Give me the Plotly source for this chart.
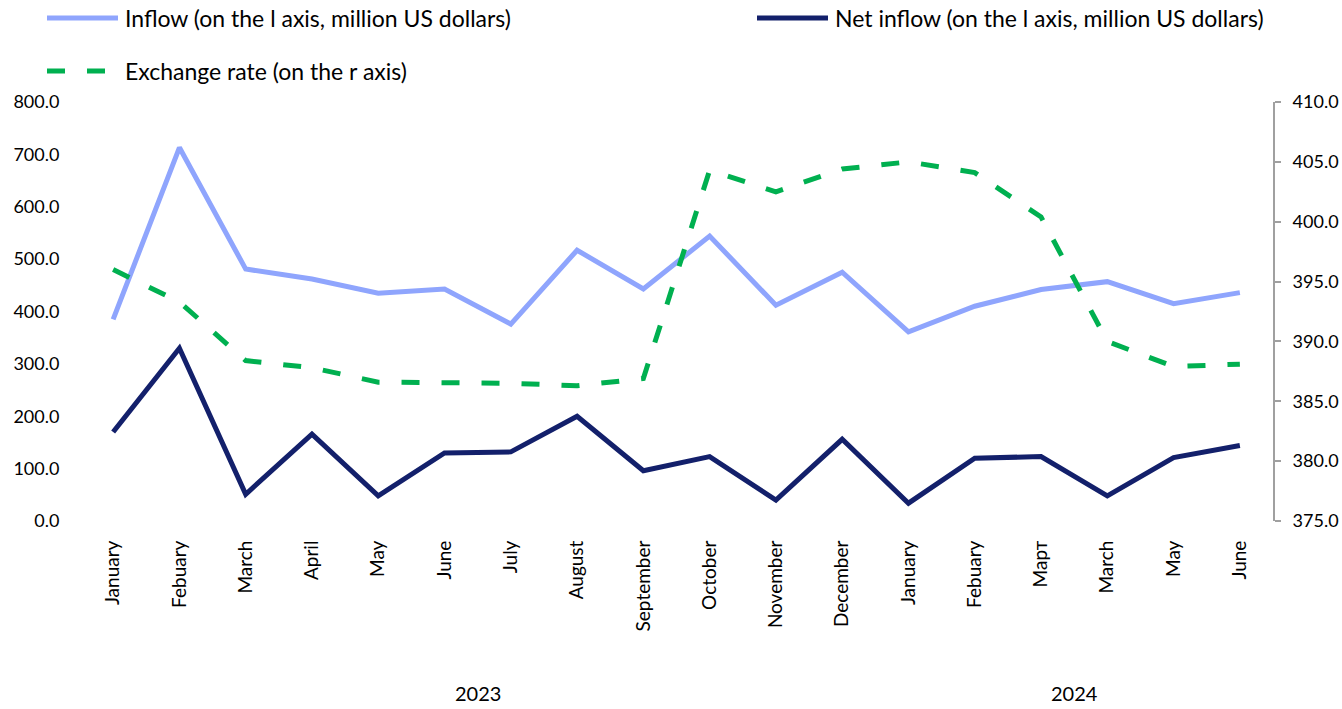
import plotly.graph_objects as go

# Monthly categories (Jan 2023 – Jun 2024)
months = ["January", "Febuary", "March", "April", "May", "June", "July", "August",
          "September", "October", "November", "December",
          "January", "Febuary", "Март", "March", "May", "June"]
years = ["2023", "2024"]
year_centers = [5.5, 14.5]

inflow = [385, 713, 481, 462, 435, 443, 376, 517, 443, 544, 412, 475,
          361, 410, 442, 457, 415, 436]
net_inflow = [170, 330, 51, 166, 48, 130, 132, 200, 96, 123, 40, 156,
              34, 120, 123, 48, 121, 144]
exchange_rate = [396.0, 393.3, 388.4, 387.8, 386.6, 386.6, 386.5, 386.3, 386.9,
                 404.3, 402.5, 404.4, 405.0, 404.1, 400.4, 390.0, 387.9, 388.1]

x = list(range(len(months)))

C_INFLOW = "#8FA5FD"
C_NET = "#13206B"
C_RATE = "#00B050"
FONT = "Lato"

W, H = 1342, 709
M = dict(l=80, r=69, t=102, b=188)


def px_to_paper(px, py):
    pw = W - M["l"] - M["r"]
    ph = H - M["t"] - M["b"]
    return (px - M["l"]) / pw, (H - M["b"] - py) / ph


fig = go.Figure()
fig.add_trace(go.Scatter(x=x, y=inflow, mode="lines", name="Inflow (on the l axis, million US dollars)",
                         line=dict(color=C_INFLOW, width=5), showlegend=False))
fig.add_trace(go.Scatter(x=x, y=net_inflow, mode="lines", name="Net inflow (on the l axis, million US dollars)",
                         line=dict(color=C_NET, width=5), showlegend=False))
fig.add_trace(go.Scatter(x=x, y=exchange_rate, mode="lines", name="Exchange rate (on the r axis)",
                         yaxis="y2", line=dict(color=C_RATE, width=5, dash="18px,22px"),
                         showlegend=False))

# Legend drawn as sample lines plus labels
legend_items = [
    (47, 18, C_INFLOW, "solid", "Inflow (on the l axis, million US dollars)"),
    (757, 18, C_NET, "solid", "Net inflow (on the l axis, million US dollars)"),
    (47, 71, C_RATE, "18px,22px", "Exchange rate (on the r axis)"),
]
shapes = []
annotations = []
for lx, ly, col, dash, label in legend_items:
    x0, y0 = px_to_paper(lx, ly)
    x1, _ = px_to_paper(lx + 71, ly)
    xt, _ = px_to_paper(lx + 76, ly)
    shapes.append(dict(type="line", xref="paper", yref="paper", x0=x0, x1=x1, y0=y0, y1=y0,
                       line=dict(color=col, width=5, dash=dash)))
    annotations.append(dict(xref="paper", yref="paper", x=xt, y=y0, text=label,
                            showarrow=False, xanchor="left", yanchor="middle",
                            font=dict(family=FONT, size=23, color="#000000")))

# Year labels under the month ticks
_, yy = px_to_paper(0, 693)
for yc, yl in zip(year_centers, years):
    annotations.append(dict(xref="x", yref="paper", x=yc, y=yy, text=yl, showarrow=False,
                            xanchor="center", yanchor="middle",
                            font=dict(family=FONT, size=20, color="#000000")))

fig.update_layout(
    width=W, height=H, margin=M,
    plot_bgcolor="white", paper_bgcolor="white",
    font=dict(family=FONT, size=18, color="#000000"),
    shapes=shapes, annotations=annotations,
    xaxis=dict(range=[-0.5, len(months) - 0.5], tickmode="array", tickvals=x, ticktext=months,
               tickangle=-90, showgrid=False, zeroline=False, showline=False, automargin=False,
               ticks="outside", ticklen=11, tickcolor="rgba(0,0,0,0)",
               tickfont=dict(family=FONT, size=19)),
    yaxis=dict(range=[0, 800], dtick=100, tickformat=".1f", showgrid=False, zeroline=False,
               showline=False, automargin=False, ticks="outside", ticklen=16,
               tickcolor="rgba(0,0,0,0)", tickfont=dict(family=FONT, size=18)),
    yaxis2=dict(range=[375, 410], dtick=5, tickformat=".1f", overlaying="y", side="right",
                showgrid=False, zeroline=False, showline=True, linecolor="#A0A0A0", linewidth=2,
                automargin=False, ticks="outside", ticklen=6, tickcolor="#A0A0A0", tickwidth=2,
                ticklabelstandoff=8, tickfont=dict(family=FONT, size=18)),
)

fig.write_html("out.html")
